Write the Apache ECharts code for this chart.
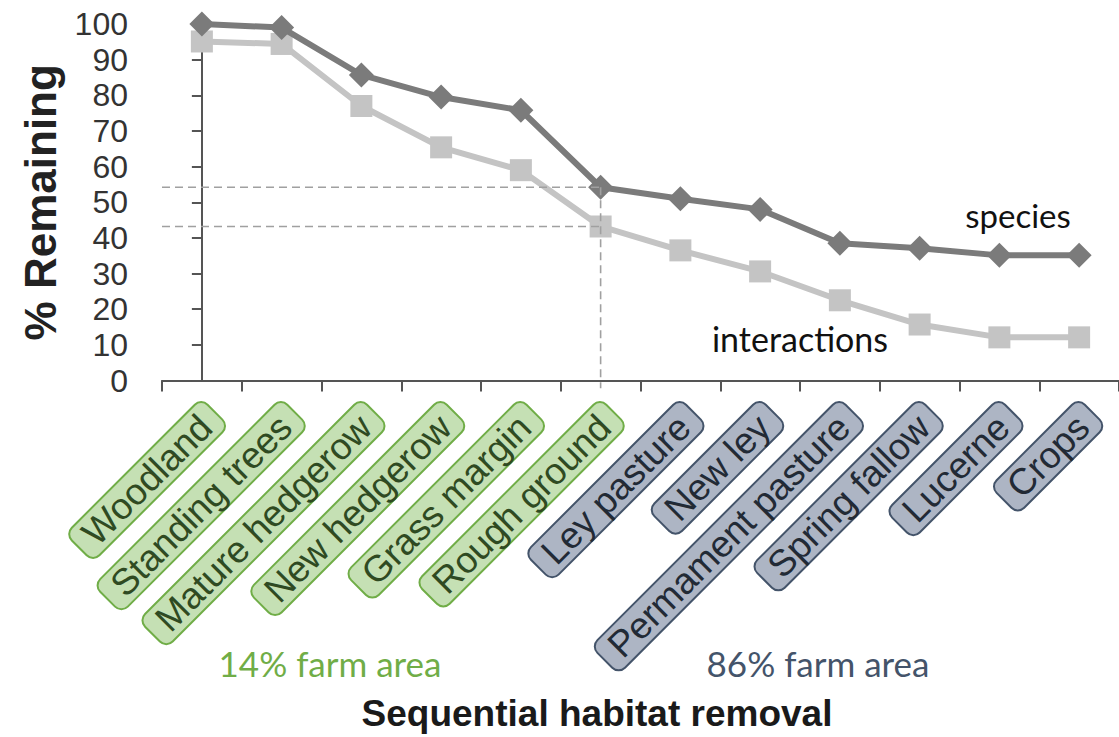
<!DOCTYPE html>
<html><head><meta charset="utf-8">
<script src="https://cdn.jsdelivr.net/npm/echarts@6/dist/echarts.min.js"></script>
<style>html,body{margin:0;padding:0;background:#fff}#c{width:1119px;height:737px}</style>
</head><body><div id="c"></div>
<script>
const categories = ['Woodland','Standing trees','Mature hedgerow','New hedgerow','Grass margin','Rough ground','Ley pasture','New ley','Permament pasture','Spring fallow','Lucerne','Crops'];
const habitatGroup = ['g','g','g','g','g','g','b','b','b','b','b','b'];
const species = [100, 99, 85.7, 79.5, 75.8, 54.2, 51.0, 48.0, 38.5, 37.1, 35.1, 35.1];
const interactions = [95.1, 94.4, 77.0, 65.4, 59.0, 43.2, 36.5, 30.6, 22.5, 15.7, 12.1, 12.1];
const yMin = 0, yMax = 100, yStep = 10;
const thresholdIndex = 5;          // last semi-natural habitat (Rough ground)
const guideBottom = -2.2;          // dashed drop line ends just below the axis
const groupText = ['14% farm area', '86% farm area'];
const seriesNames = ['species', 'interactions'];

const FONT = '"Liberation Sans", Arial, sans-serif';
const HFONT = 'Lato, "Open Sans", sans-serif';
const chart = echarts.init(document.getElementById('c'), null, {renderer: 'svg'});

const xEdge = -0.5, xEnd = categories.length - 0.5;
const guideStyle = {color: '#a0a0a0', width: 1.6, type: [8, 5]};
function guide(data) {
  return {type: 'line', xAxisIndex: 1, data: data, symbol: 'none', silent: true,
          clip: false, z: 4, lineStyle: guideStyle, animation: false};
}

const option = {
  animation: false,
  backgroundColor: '#fff',
  grid: {left: 162, top: 24, width: 968, bottom: 356.5},
  xAxis: [{
    type: 'category', data: categories, boundaryGap: true,
    axisLine: {show: true, lineStyle: {color: '#555', width: 2}},
    axisTick: {show: true, length: 11, lineStyle: {color: '#555', width: 2}},
    splitLine: {show: false},
    axisLabel: {
      interval: 0, rotate: 45, align: 'right', verticalAlign: 'top', margin: 20,
      formatter: (v, i) => '{' + habitatGroup[i] + '|' + v + '}',
      rich: {
        g: {fontFamily: FONT, fontSize: 37, lineHeight: 35, color: '#2f4a22',
            backgroundColor: '#c5e0b4', borderColor: '#70ad47', borderWidth: 2,
            borderRadius: 8, padding: [0, 12]},
        b: {fontFamily: FONT, fontSize: 37, lineHeight: 35, color: '#222a35',
            backgroundColor: '#adb5c4', borderColor: '#44546a', borderWidth: 2,
            borderRadius: 8, padding: [0, 12]}
      }
    }
  }, {
    type: 'value', min: xEdge, max: xEnd, show: false
  }],
  yAxis: {
    type: 'value', min: yMin, max: yMax, interval: yStep,
    name: '% Remaining', nameLocation: 'middle', nameRotate: 90, nameGap: 100,
    nameTextStyle: {fontFamily: FONT, fontSize: 44, fontWeight: 'bold', color: '#222'},
    axisLine: {show: true, lineStyle: {color: '#555', width: 2}},
    axisTick: {show: true, length: 10, lineStyle: {color: '#555', width: 2}},
    splitLine: {show: false},
    axisLabel: {fontFamily: FONT, fontSize: 32, color: '#333', margin: 34}
  },
  series: [
    {name: seriesNames[1], type: 'line', data: interactions, symbol: 'rect', symbolSize: 22,
     itemStyle: {color: '#c4c4c4'}, lineStyle: {color: '#c4c4c4', width: 6}, z: 2},
    {name: seriesNames[0], type: 'line', data: species, symbol: 'diamond', symbolSize: 25,
     itemStyle: {color: '#7b7b7b'}, lineStyle: {color: '#7b7b7b', width: 6}, z: 3},
    guide([[xEdge, species[thresholdIndex]], [thresholdIndex, species[thresholdIndex]]]),
    guide([[xEdge, interactions[thresholdIndex]], [thresholdIndex, interactions[thresholdIndex]]]),
    guide([[thresholdIndex, species[thresholdIndex]], [thresholdIndex, guideBottom]])
  ],
  graphic: [
    {type: 'text', x: 1018, y: 215, style: {text: seriesNames[0], font: '33px ' + HFONT, fill: '#111', align: 'center', verticalAlign: 'middle'}},
    {type: 'text', x: 800, y: 338, style: {text: seriesNames[1], font: '34px ' + HFONT, fill: '#111', align: 'center', verticalAlign: 'middle'}},
    {type: 'text', x: 330, y: 663, style: {text: groupText[0], font: '35px ' + HFONT, fill: '#70ad47', align: 'center', verticalAlign: 'middle'}},
    {type: 'text', x: 818, y: 663, style: {text: groupText[1], font: '35px ' + HFONT, fill: '#44546a', align: 'center', verticalAlign: 'middle'}},
    {type: 'text', x: 597, y: 713, style: {text: 'Sequential habitat removal', font: 'bold 37px ' + FONT, fill: '#1a1a1a', align: 'center', verticalAlign: 'middle'}}
  ]
};
chart.setOption(option);
</script>
</body></html>
